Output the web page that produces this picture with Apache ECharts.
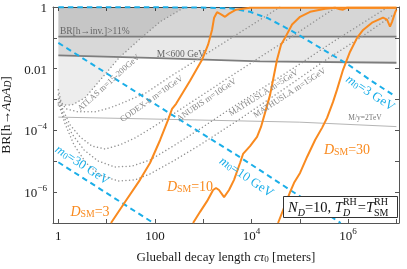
<!DOCTYPE html>
<html>
<head>
<meta charset="utf-8">
<script src="https://cdn.jsdelivr.net/npm/echarts@6.0.0/dist/echarts.min.js"></script>
<style>
html,body{margin:0;padding:0;background:#ffffff;}
#chart{width:407px;height:269px;}
</style>
</head>
<body>
<div id="chart"></div>
<script>
// ---------------- data ----------------
// x : glueball decay length c*tau0 [m]   y : BR[h -> A_D A_D]
const xTickValues = [1, 100, 1e4, 1e6];
const xTickLabels = ['{t|1}', '{t|100}', '{t|10}{p|4}', '{t|10}{p|6}'];
const yTickValues = [1, 0.01, 1e-4, 1e-6];
const yTickLabels = ['{t|1}', '{t|0.01}', '{t|10}{p|\u22124}', '{t|10}{p|\u22126}'];

// excluded / reference bands
const invCt = [1, 1e7];
const invBR = [0.11, 0.11];
const mLimCt = [1, 79, 1.5e4, 1e7];
const mLimBR = [0.027, 0.0226, 0.0174, 0.0156];
const myCt = [1, 79, 1.0e5, 1e7];
const myBR = [2.7e-4, 2.35e-4, 1.85e-4, 1.33e-4];

// projected sensitivities (dotted)
const atlasCt = [1, 1.92, 3.57, 8.0, 18.1, 46.9, 128, 420];
const atlasBR = [6.7e-4, 6.7e-4, 1.14e-3, 5.0e-3, 0.0226, 0.087, 0.333, 1.0];
const codexCt = [1, 1.14, 1.44, 2.56, 5.75, 11.8, 24, 65.4, 205, 859, 3590, 1.5e4, 3.9e4];
const codexBR = [2.07e-3, 8.4e-4, 5.0e-4, 4.0e-4, 4.0e-4, 5.4e-4, 8.4e-4, 1.65e-3, 5.5e-3, 0.0226, 0.0935, 0.387, 1.0];
const anubisCt = [1, 1.25, 1.75, 2.81, 4.99, 9.27, 18.9, 38.7, 79.2, 261, 1040, 3590, 1.65e4, 6.27e4, 2.62e5, 5.89e5];
const anubisBR = [1.42e-3, 4.6e-4, 1.51e-4, 6.2e-5, 3.1e-5, 2.5e-5, 3.4e-5, 5.7e-5, 1.12e-4, 3.7e-4, 1.53e-3, 5.5e-3, 0.0262, 0.1, 0.45, 1.0];
const math5Ct = [1, 1.31, 1.92, 3.41, 6.64, 14.9, 33.6, 79.2, 261, 859, 3590, 2.0e4, 1.01e5, 4.22e5, 1.76e6, 6.7e6];
const math5BR = [1.05e-3, 2.74e-4, 7.7e-5, 2.33e-5, 1.02e-5, 6.5e-6, 7.0e-6, 1.1e-5, 3.4e-5, 1.12e-4, 5.0e-4, 2.78e-3, 0.0144, 0.0643, 0.266, 1.0];
const math15Ct = [1, 1.38, 2.11, 3.75, 7.3, 17.2, 38.7, 79.2, 261, 859, 5780, 5.43e4, 3.02e5, 1.76e6, 8.11e6, 1.0e7];
const math15BR = [7.8e-4, 1.63e-4, 3.4e-5, 8.8e-6, 3.6e-6, 2.3e-6, 2.5e-6, 3.9e-6, 1.1e-5, 3.4e-5, 2.36e-4, 2.58e-3, 0.0168, 0.1, 0.52, 0.65];

// glueball-mass contours (blue dashed)
const m3Ct = [1, 80, 860, 3600, 9300, 2.2e4, 7.2e4, 2.6e5, 9.5e5, 2.8e6, 8.5e6];
const m3BR = [0.98, 0.98, 0.96, 0.91, 0.70, 0.43, 0.16, 0.048, 0.0144, 4.4e-3, 1.42e-3];
const m10Ct = [1, 330, 5800, 7.0e5];
const m10BR = [0.069, 2.2e-4, 1.35e-5, 1.0e-7];
const m30Ct = [1, 93];
const m30BR = [9.3e-6, 1.0e-7];

// D_SM curves (orange)
const d3Ct = [12.3, 24, 49, 79, 128, 187, 226, 274, 533, 944, 1260, 1520, 1680, 1930, 2340, 2830, 3420, 4780, 9300, 1.0e5, 1.0e7];
const d3BR = [1e-7, 4.8e-7, 2.5e-6, 8.8e-6, 4.9e-5, 2.2e-4, 5.0e-4, 7.3e-4, 4.1e-3, 0.0195, 0.06, 0.18, 0.45, 0.68, 0.58, 0.48, 0.61, 0.82, 0.95, 0.95, 0.95];
const d10Ct = [615, 860, 1200, 1600, 1840, 2120, 2700, 3420, 4340, 5780, 6670, 9310, 1.3e4, 1.57e4, 1.9e4, 2.42e4, 2.79e4, 3.37e4, 4.08e4, 4.94e4, 6.9e4, 1.01e5, 1.63e5, 3.33e5, 5.36e5, 6.79e5, 7.84e5, 9.5e5, 1e7];
const d10BR = [1e-7, 2.3e-7, 5.1e-7, 1.17e-6, 1.36e-6, 1.17e-6, 6.9e-7, 1.17e-6, 2.5e-6, 8.8e-6, 1.73e-5, 3.1e-5, 6.2e-5, 1.3e-4, 3.7e-4, 1.42e-3, 4.4e-3, 0.0195, 0.06, 0.1, 0.27, 0.48, 0.7, 0.88, 0.95, 0.85, 0.82, 0.95, 0.95];
const d30Ct = [3.54e4, 4.94e4, 6.27e4, 7.59e4, 1.01e5, 1.41e5, 2.07e5, 2.88e5, 3.66e5, 4.87e5, 5.89e5, 7.84e5, 1.09e6, 1.53e6, 2.04e6, 3.12e6, 5.28e6, 6.38e6, 7.36e6, 8.11e6, 9.35e6, 1.0e7];
const d30BR = [1e-7, 3.8e-7, 1.0e-6, 2.0e-6, 4.2e-6, 1.38e-5, 4.9e-5, 1.21e-4, 2.55e-4, 8.4e-4, 2.1e-3, 9.2e-3, 0.035, 0.1, 0.18, 0.31, 0.45, 0.39, 0.23, 0.33, 0.65, 0.82];

// ---------------- styling ----------------
const FONT = 'Liberation Serif';
const TXT = '#1a1a1a';
const ORANGE = '#f98a1f';
const BLUE = '#1aaee8';
const GRAYLINE = '#7d7d7d';
const DOT = '#939393';
const FRAME = '#555555';

function rich(size, color) {
  const sm = Math.round(size * 0.7 * 10) / 10;
  const base = {fontFamily: FONT, color: color, fill: color};
  return {
    t: Object.assign({}, base, {fontSize: size, lineHeight: size + 3, verticalAlign: 'bottom'}),
    i: Object.assign({}, base, {fontSize: size, fontStyle: 'italic', lineHeight: size + 3, verticalAlign: 'bottom'}),
    s: Object.assign({}, base, {fontSize: sm, lineHeight: sm, verticalAlign: 'bottom'}),
    si: Object.assign({}, base, {fontSize: sm, fontStyle: 'italic', lineHeight: sm, verticalAlign: 'bottom'}),
    p: Object.assign({}, base, {fontSize: sm, lineHeight: sm, verticalAlign: 'top'})
  };
}

function tickFmt(vals, texts) {
  return function (v) {
    const lv = Math.log10(v);
    for (let k = 0; k < vals.length; k++) {
      if (Math.abs(lv - Math.log10(vals[k])) < 1e-6) return texts[k];
    }
    return '';
  };
}

function pts(xs, ys) { return xs.map(function (x, k) { return [x, ys[k]]; }); }

const series = [];
function addLine(xs, ys, lineStyle, extra) {
  series.push(Object.assign({
    type: 'line', data: pts(xs, ys), showSymbol: false, symbol: 'none',
    silent: true, animation: false, lineStyle: lineStyle
  }, extra || {}));
}
function addArea(xs, ys, color) {
  addLine(xs, ys, {width: 0, opacity: 0}, {areaStyle: {color: color, origin: 'end'}, z: 1});
}

// shaded regions
addArea(invCt, invBR, 'rgba(0,0,0,0.11)');
addArea(mLimCt, mLimBR, 'rgba(0,0,0,0.12)');
addArea(atlasCt, atlasBR, 'rgba(0,0,0,0.10)');
// solid reference lines
addLine(myCt, myBR, {color: '#b5b5b5', width: 1}, {z: 2});
addLine(invCt, invBR, {color: GRAYLINE, width: 1.8}, {z: 2});
addLine(mLimCt, mLimBR, {color: GRAYLINE, width: 1.8}, {z: 2});
// dotted projections
const dotted = {color: DOT, width: 1.5, type: [0.01, 3.6], cap: 'round'};
[[atlasCt, atlasBR], [codexCt, codexBR], [anubisCt, anubisBR], [math5Ct, math5BR], [math15Ct, math15BR]]
  .forEach(function (c) { addLine(c[0], c[1], Object.assign({}, dotted), {z: 3}); });
// blue dashed
const dashed = {color: BLUE, width: 2, type: [5.5, 4]};
[[m3Ct, m3BR], [m10Ct, m10BR], [m30Ct, m30BR]]
  .forEach(function (c) { addLine(c[0], c[1], Object.assign({}, dashed), {z: 4}); });
// orange
[[d3Ct, d3BR], [d10Ct, d10BR], [d30Ct, d30BR]]
  .forEach(function (c) { addLine(c[0], c[1], {color: ORANGE, width: 2}, {z: 5}); });

function makeAxis(extra) {
  return Object.assign({
    type: 'log', logBase: 10,
    axisLine: {show: true, onZero: false, lineStyle: {color: FRAME, width: 1}},
    axisTick: {show: true, inside: true, length: 4, lineStyle: {color: FRAME, width: 1}},
    minorTick: {show: false}, splitLine: {show: false}, minorSplitLine: {show: false}
  }, extra);
}

// ---------------- text annotations (positions in pixels) ----------------
function label(x, y, text, size, color, deg, align) {
  return {
    type: 'text', x: x, y: y, rotation: (deg || 0) * Math.PI / 180, z: 50, silent: true,
    style: {text: text, rich: rich(size, color), fontFamily: FONT, fontSize: size, fill: color,
            align: align || 'center', verticalAlign: 'middle'}
  };
}

const graphics = [];
graphics.push(label(60, 30, '{t|BR[h\u2192inv.]>11%}', 9.5, '#666', 0, 'left'));
graphics.push(label(181, 53.5, '{t|M<600 GeV}', 9.5, '#666', 0));
graphics.push(label(365, 116.5, '{t|M/y=2TeV}', 7.5, '#777', 0));
graphics.push(label(108, 82, '{t|ATLAS m=15-200GeV}', 8.5, '#888', 42));
graphics.push(label(151, 98, '{t|CODEX-b m=10GeV}', 8.5, '#888', 35));
graphics.push(label(206, 99, '{t|ANUBIS m=10GeV}', 8.5, '#888', 34));
graphics.push(label(263, 92, '{t|MATHUSLA m=5GeV}', 8.5, '#888', 32));
graphics.push(label(289, 92, '{t|MATHUSLA m=15GeV}', 8.5, '#888', 33));
graphics.push(label(371, 92, '{i|m}{s|0}{t|=3 GeV}', 13, BLUE, -33));
graphics.push(label(247, 176, '{i|m}{s|0}{t|=10 GeV}', 13, BLUE, -34));
graphics.push(label(83, 164, '{i|m}{s|0}{t|=30 GeV}', 13, BLUE, -33));
graphics.push(label(90, 211, '{i|D}{s|SM}{t|=3}', 14, ORANGE, 0));
graphics.push(label(190, 186, '{i|D}{s|SM}{t|=10}', 14, ORANGE, 0));
graphics.push(label(347, 149, '{i|D}{s|SM}{t|=30}', 14, ORANGE, 0));

// boxed parameter note: N_D=10, T_D^RH = T_SM^RH
graphics.push({type: 'rect', z: 49, silent: true, shape: {x: 283.5, y: 196.5, width: 114, height: 21},
  style: {fill: '#ffffff', stroke: '#333', lineWidth: 1}});
(function () {
  const ctx = document.createElement('canvas').getContext('2d');
  function w(str, size, it) { ctx.font = (it ? 'italic ' : '') + size + 'px "' + FONT + '"'; return ctx.measureText(str).width; }
  const MAIN = 14.5, SCR = 10, yMain = 208, ySup = 202, ySub = 213.5;
  let x = 288;
  function put(str, size, it, y) {
    graphics.push({type: 'text', x: x, y: y, z: 51, silent: true,
      style: {text: str, fontFamily: FONT, fontSize: size, fontStyle: it ? 'italic' : 'normal', fill: '#111',
              align: 'left', verticalAlign: 'middle'}});
    return w(str, size, it);
  }
  x += put('N', MAIN, true, yMain);
  x += put('D', SCR, true, ySub);
  x += put('=10, ', MAIN, false, yMain);
  x += put('T', MAIN, true, yMain);
  let a = put('RH', SCR, false, ySup); let b = put('D', SCR, true, ySub); x += Math.max(a, b) + 1;
  x += put('=', MAIN, false, yMain);
  x += put('T', MAIN, true, yMain);
  a = put('RH', SCR, false, ySup); b = put('SM', SCR, false, ySub);
})();

const option = {
  animation: false,
  backgroundColor: '#ffffff',
  grid: {left: 53, right: 8, top: 7, bottom: 46, containLabel: false, outerBoundsMode: 'none'},
  xAxis: [
    makeAxis({position: 'bottom', min: 0.775, max: 1.13e7,
      axisLabel: {margin: 4, formatter: tickFmt(xTickValues, xTickLabels), rich: rich(13, TXT)},
      name: '{t|Glueball decay length }{i|c\u03c4}{s|0}{t| [meters]}', nameLocation: 'middle', nameGap: 25,
      nameTextStyle: {rich: rich(13, TXT)}}),
    makeAxis({position: 'top', min: 0.775, max: 1.13e7, axisLabel: {show: false}})
  ],
  yAxis: [
    makeAxis({position: 'left', min: 1e-7, max: 1,
      axisLabel: {margin: 6, formatter: tickFmt(yTickValues, yTickLabels), rich: rich(13, TXT)},
      name: '{t|BR[h\u2192}{i|A}{si|D}{i|A}{si|D}{t|]}', nameLocation: 'middle', nameGap: 32, nameRotate: 90,
      nameTextStyle: {rich: rich(13.5, TXT)}}),
    makeAxis({position: 'right', min: 1e-7, max: 1, axisLabel: {show: false}})
  ],
  series: series,
  graphic: {elements: graphics}
};

const chart = echarts.init(document.getElementById('chart'), null, {renderer: 'canvas'});
chart.setOption(option);
</script>
</body>
</html>
